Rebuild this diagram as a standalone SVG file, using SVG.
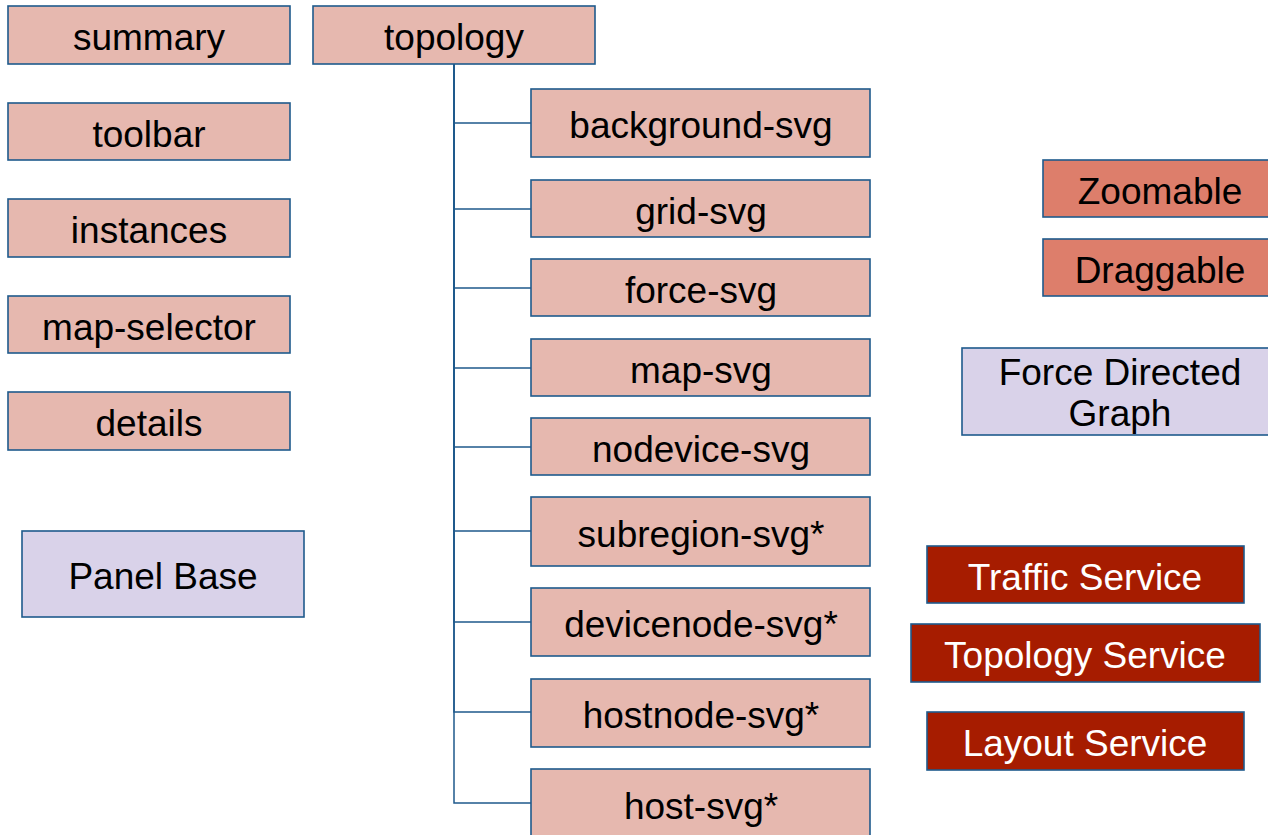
<svg xmlns="http://www.w3.org/2000/svg" width="1268" height="835" viewBox="0 0 1268 835">
<style>
rect{stroke:#1f5a8c;stroke-width:1.6}
.p{fill:#e6b8af}
.z{fill:#dd7e6b}
.l{fill:#d9d2e9}
.r{fill:#a61c00}
text{font-family:"Liberation Sans",Arial,sans-serif;font-size:37px;text-anchor:middle;fill:#000}
.w{fill:#fff}
.c{fill:none;stroke:#1f5a8c;stroke-width:1.5}
</style>
<g id="connectors">
<path class="c" d="M454,64V123H531"/>
<path class="c" d="M454,64V209H531"/>
<path class="c" d="M454,64V288H531"/>
<path class="c" d="M454,64V368H531"/>
<path class="c" d="M454,64V447H531"/>
<path class="c" d="M454,64V531H531"/>
<path class="c" d="M454,64V622H531"/>
<path class="c" d="M454,64V712H531"/>
<path class="c" d="M454,64V803H531"/>
</g>
<g id="summary"><rect class="p" x="8" y="6" width="282" height="58"/><text x="149" y="50">summary</text></g>
<g id="toolbar"><rect class="p" x="8" y="103" width="282" height="57"/><text x="149" y="147">toolbar</text></g>
<g id="instances"><rect class="p" x="8" y="199" width="282" height="58"/><text x="149" y="243">instances</text></g>
<g id="map-selector"><rect class="p" x="8" y="296" width="282" height="57"/><text x="149" y="340">map-selector</text></g>
<g id="details"><rect class="p" x="8" y="392" width="282" height="58"/><text x="149" y="436">details</text></g>
<g id="panel-base"><rect class="l" x="22" y="531" width="282" height="86"/><text x="163" y="589">Panel Base</text></g>
<g id="topology"><rect class="p" x="313" y="6" width="282" height="58"/><text x="454" y="50">topology</text></g>
<g id="background-svg"><rect class="p" x="531" y="89" width="339" height="68"/><text x="701" y="138">background-svg</text></g>
<g id="grid-svg"><rect class="p" x="531" y="180" width="339" height="57"/><text x="701" y="224">grid-svg</text></g>
<g id="force-svg"><rect class="p" x="531" y="259" width="339" height="57"/><text x="701" y="303">force-svg</text></g>
<g id="map-svg"><rect class="p" x="531" y="339" width="339" height="57"/><text x="701" y="383">map-svg</text></g>
<g id="nodevice-svg"><rect class="p" x="531" y="418" width="339" height="57"/><text x="701" y="462">nodevice-svg</text></g>
<g id="subregion-svg"><rect class="p" x="531" y="497" width="339" height="69"/><text x="701" y="547">subregion-svg*</text></g>
<g id="devicenode-svg"><rect class="p" x="531" y="588" width="339" height="68"/><text x="701" y="637">devicenode-svg*</text></g>
<g id="hostnode-svg"><rect class="p" x="531" y="679" width="339" height="68"/><text x="701" y="728">hostnode-svg*</text></g>
<g id="host-svg"><rect class="p" x="531" y="769" width="339" height="70"/><text x="701" y="819">host-svg*</text></g>
<g id="zoomable"><rect class="z" x="1043" y="160" width="230" height="57"/><text x="1160" y="204">Zoomable</text></g>
<g id="draggable"><rect class="z" x="1043" y="239" width="230" height="57"/><text x="1160" y="283">Draggable</text></g>
<g id="force-directed-graph"><rect class="l" x="962" y="348" width="310" height="87"/><text x="1120" y="385">Force Directed</text><text x="1120" y="426">Graph</text></g>
<g id="traffic-service"><rect class="r" x="927" y="546" width="317" height="57"/><text class="w" x="1085" y="590">Traffic Service</text></g>
<g id="topology-service"><rect class="r" x="911" y="624" width="349" height="58"/><text class="w" x="1085" y="668">Topology Service</text></g>
<g id="layout-service"><rect class="r" x="927" y="712" width="317" height="58"/><text class="w" x="1085" y="756">Layout Service</text></g>
</svg>
